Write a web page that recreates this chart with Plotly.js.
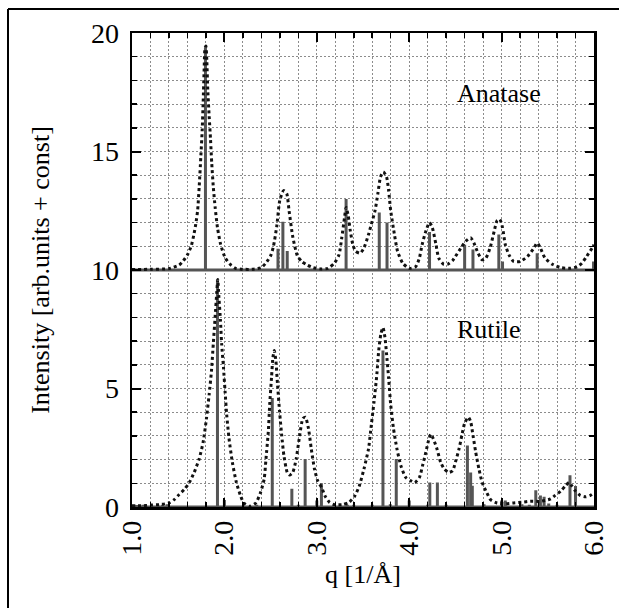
<!DOCTYPE html>
<html>
<head>
<meta charset="utf-8">
<script src="https://cdn.plot.ly/plotly-3.0.1.min.js"></script>
<style>
  html, body { margin: 0; padding: 0; background: #fff; }
  #plot { width: 619px; height: 608px; }
</style>
</head>
<body>
<div id="plot"></div>
<script>
// ---------- DATA ----------
// Anatase: broadened pattern (dotted), already shifted by +10
const anataseQ = [
  1.00, 1.20, 1.40, 1.51, 1.55, 1.60, 1.64, 1.67, 1.69, 1.71,
  1.727, 1.745, 1.76, 1.77, 1.78, 1.79, 1.80, 1.81, 1.82, 1.835,
  1.85, 1.863, 1.88, 1.90, 1.925, 1.96, 2.01, 2.07, 2.12, 2.20,
  2.30, 2.40, 2.46, 2.50, 2.53, 2.566, 2.60, 2.64, 2.674, 2.70,
  2.74, 2.79, 2.84, 2.90, 2.96, 3.05, 3.12, 3.19, 3.24, 3.27,
  3.30, 3.317, 3.34, 3.363, 3.39, 3.42, 3.47, 3.51, 3.56, 3.59,
  3.63, 3.66, 3.69, 3.72, 3.755, 3.777, 3.80, 3.84, 3.874, 3.93,
  4.00, 4.07, 4.11, 4.14, 4.18, 4.22, 4.25, 4.29, 4.32, 4.37,
  4.42, 4.47, 4.50, 4.56, 4.61, 4.665, 4.70, 4.745, 4.79, 4.83,
  4.875, 4.92, 4.95, 4.98, 5.01, 5.04, 5.08, 5.13, 5.20, 5.28,
  5.35, 5.385, 5.42, 5.47, 5.55, 5.64, 5.745, 5.82, 5.87, 5.92,
  5.98, 6.00
];
const anataseI = [
  10.02, 10.03, 10.06, 10.21, 10.36, 10.64, 11.00, 11.50, 11.93, 12.50,
  13.50, 14.79, 15.93, 17.07, 18.36, 19.36, 19.45, 18.80, 17.60, 16.50,
  15.50, 14.50, 13.50, 12.64, 11.79, 11.07, 10.50, 10.21, 10.07, 10.03,
  10.03, 10.10, 10.35, 10.60, 10.98, 11.83, 12.95, 13.35, 13.23, 12.50,
  11.40, 10.60, 10.35, 10.20, 10.10, 10.04, 10.07, 10.29, 10.64, 11.36,
  12.21, 12.64, 12.29, 11.64, 11.07, 10.79, 10.71, 10.93, 11.50, 11.93,
  12.50, 13.20, 13.93, 14.14, 13.93, 13.36, 12.50, 11.50, 10.79, 10.29,
  10.07, 10.14, 10.50, 11.07, 11.64, 12.00, 11.79, 11.07, 10.50, 10.25,
  10.25, 10.40, 10.57, 10.93, 11.21, 11.36, 11.14, 10.71, 10.43, 10.50,
  10.93, 11.64, 12.07, 12.14, 11.79, 11.07, 10.64, 10.36, 10.36, 10.57,
  10.93, 11.14, 10.93, 10.50, 10.24, 10.10, 10.07, 10.14, 10.29, 10.57,
  10.93, 11.07
];
// Anatase: calculated reflections (solid gray), base line and heights above it
const anataseBase = 10;
const anatasePeakQ = [1.795, 2.58, 2.633, 2.68, 3.317, 3.676, 3.76, 4.22, 4.60, 4.69, 4.97, 5.01, 5.385, 5.995];
const anatasePeakH = [9.40, 0.90, 2.04, 0.80, 3.00, 2.43, 2.00, 1.60, 1.07, 0.86, 1.50, 0.36, 0.71, 0.36];

// Rutile: broadened pattern (dotted)
const rutileQ = [
  1.00, 1.10, 1.20, 1.30, 1.40, 1.457, 1.51, 1.565, 1.62, 1.673,
  1.727, 1.77, 1.806, 1.835, 1.86, 1.88, 1.90, 1.917, 1.928, 1.94,
  1.957, 1.97, 1.99, 2.007, 2.025, 2.05, 2.086, 2.13, 2.176, 2.21,
  2.27, 2.34, 2.39, 2.43, 2.45, 2.475, 2.49, 2.51, 2.525, 2.54,
  2.557, 2.575, 2.597, 2.62, 2.644, 2.68, 2.705, 2.74, 2.777, 2.81,
  2.85, 2.877, 2.91, 2.94, 2.975, 3.01, 3.054, 3.09, 3.137, 3.19,
  3.28, 3.35, 3.41, 3.46, 3.51, 3.56, 3.59, 3.62, 3.65, 3.67,
  3.694, 3.716, 3.737, 3.755, 3.777, 3.80, 3.83, 3.867, 3.91, 3.964,
  4.02, 4.06, 4.11, 4.144, 4.18, 4.21, 4.234, 4.26, 4.30, 4.34,
  4.38, 4.43, 4.47, 4.50, 4.54, 4.57, 4.60, 4.64, 4.665, 4.69,
  4.72, 4.755, 4.79, 4.84, 4.88, 4.95, 5.04, 5.13, 5.22, 5.31,
  5.42, 5.53, 5.58, 5.64, 5.69, 5.73, 5.76, 5.80, 5.85, 5.91,
  5.96, 6.00
];
const rutileI = [
  0.05, 0.05, 0.08, 0.10, 0.17, 0.31, 0.53, 0.74, 1.03, 1.46,
  2.03, 2.74, 3.74, 4.74, 5.74, 6.89, 8.03, 9.03, 9.60, 8.89,
  7.89, 6.89, 5.89, 4.89, 3.89, 2.89, 1.89, 1.03, 0.46, 0.17,
  0.03, 0.17, 0.60, 1.17, 2.03, 3.17, 4.31, 5.46, 6.31, 6.60,
  6.17, 5.17, 4.03, 3.03, 2.17, 1.46, 1.35, 1.46, 2.03, 2.89,
  3.74, 3.79, 3.31, 2.46, 1.60, 1.10, 0.81, 0.46, 0.20, 0.10,
  0.10, 0.20, 0.46, 0.89, 1.60, 2.46, 3.46, 4.46, 5.60, 6.60,
  7.31, 7.57, 7.17, 6.46, 5.46, 4.31, 3.31, 2.46, 1.74, 1.24,
  1.10, 1.03, 1.24, 1.74, 2.31, 2.81, 3.07, 2.89, 2.46, 1.89,
  1.60, 1.46, 1.53, 1.89, 2.46, 3.03, 3.53, 3.79, 3.60, 3.03,
  2.31, 1.60, 1.03, 0.60, 0.31, 0.17, 0.14, 0.17, 0.20, 0.24,
  0.24, 0.34, 0.49, 0.67, 0.89, 1.03, 0.89, 0.67, 0.49, 0.43,
  0.49, 0.60
];
// Rutile: calculated reflections (solid gray)
const rutileBase = 0;
const rutilePeakQ = [1.05, 1.12, 1.20, 1.33, 1.38, 1.925, 2.00, 2.35, 2.518, 2.73,
  2.80, 2.874, 3.00, 3.05, 3.19, 3.33, 3.40, 3.60, 3.716, 3.795,
  3.86, 4.00, 4.20, 4.223, 4.305, 4.40, 4.63, 4.665, 4.683, 4.81,
  5.00, 5.04, 5.22, 5.30, 5.37, 5.42, 5.46, 5.51, 5.60, 5.74, 5.80];
const rutilePeakH = [0.08, 0.10, 0.06, 0.10, 0.12, 9.60, 0.30, 0.10, 4.60, 0.77,
  0.10, 2.03, 0.27, 1.00, 0.10, 0.10, 0.10, 0.10, 6.60, 0.12,
  2.03, 0.27, 0.10, 1.03, 1.03, 0.10, 2.60, 1.46, 0.90, 0.12,
  0.27, 0.27, 0.12, 0.10, 0.71, 0.49, 0.43, 0.15, 0.10, 1.34, 0.89];

const labels = [
  {text: 'Anatase', q: 4.97, y: 17.45},
  {text: 'Rutile', q: 4.86, y: 7.5}
];
const xTitle = 'q [1/Å]';
const yTitle = 'Intensity [arb.units + const]';

// ---------- build stick spectra ----------
function sticks(base, qs, hs) {
  const x = [1.0], y = [base];
  qs.forEach((q, i) => {
    x.push(q, q, q);
    y.push(base, base + hs[i], base);
  });
  x.push(6.0); y.push(base);
  return {x, y};
}
const aS = sticks(anataseBase, anatasePeakQ, anatasePeakH);
const rS = sticks(rutileBase, rutilePeakQ, rutilePeakH);

const SOLID = '#555555';
const DOT = '#111111';
const FONT = 'Liberation Serif';

const traces = [
  {x: rS.x, y: rS.y, type: 'scatter', mode: 'lines', line: {color: SOLID, width: 3}, hoverinfo: 'skip'},
  {x: aS.x, y: aS.y, type: 'scatter', mode: 'lines', line: {color: SOLID, width: 3}, hoverinfo: 'skip'},
  {x: rutileQ, y: rutileI, type: 'scatter', mode: 'lines', line: {color: DOT, width: 3, dash: 'dot', shape: 'spline', smoothing: 0.6}, hoverinfo: 'skip'},
  {x: anataseQ, y: anataseI, type: 'scatter', mode: 'lines', line: {color: DOT, width: 3, dash: 'dot', shape: 'spline', smoothing: 0.6}, hoverinfo: 'skip'}
];

const M = {l: 132, r: 25, t: 33, b: 101};
const W = 619, H = 608;
const pw = W - M.l - M.r, ph = H - M.t - M.b;
const px2x = p => (p - M.l) / pw;
const py2y = p => 1 - (p - M.t) / ph;

const gridCol = '#8c8c8c';
const axisCommon = {
  showline: true, linecolor: '#000', linewidth: 2.5, mirror: 'allticks',
  ticks: 'inside', ticklen: 9, tickwidth: 2, tickcolor: '#000',
  showgrid: true, gridcolor: gridCol, gridwidth: 1, griddash: '2px,2px',
  zeroline: false,
  tickfont: {family: FONT, size: 28, color: '#000'}
};

const layout = {
  width: W, height: H,
  margin: M,
  paper_bgcolor: '#fff', plot_bgcolor: '#fff',
  showlegend: false,
  font: {family: FONT, color: '#000'},
  xaxis: Object.assign({}, axisCommon, {
    range: [1, 6], tick0: 1, dtick: 1, tickformat: '.1f', tickangle: -90,
    minor: {dtick: 0.2, ticks: 'inside', ticklen: 5, tickwidth: 1.5, tickcolor: '#000',
            showgrid: true, gridcolor: gridCol, gridwidth: 1, griddash: '2px,2px'},
    title: {text: xTitle, font: {family: FONT, size: 26, color: '#000'}, standoff: 10}
  }),
  yaxis: Object.assign({}, axisCommon, {
    range: [0, 20], tick0: 0, dtick: 5, ticklabelstandoff: 5,
    minor: {dtick: 1, ticks: 'inside', ticklen: 5, tickwidth: 1.5, tickcolor: '#000',
            showgrid: true, gridcolor: gridCol, gridwidth: 1, griddash: '2px,2px'},
    title: {text: yTitle, font: {family: FONT, size: 26, color: '#000'}, standoff: 34}
  }),
  annotations: labels.map(l => ({
    x: l.q, y: l.y, xref: 'x', yref: 'y', text: l.text, showarrow: false,
    font: {family: FONT, size: 26, color: '#000'}
  })),
  shapes: [
    {type: 'line', xref: 'paper', yref: 'paper', x0: px2x(8), x1: px2x(8), y0: py2y(9), y1: py2y(H + 2),
     line: {color: '#000', width: 2}},
    {type: 'line', xref: 'paper', yref: 'paper', x0: px2x(8), x1: px2x(W + 2), y0: py2y(9), y1: py2y(9),
     line: {color: '#000', width: 2}}
  ]
};

Plotly.newPlot('plot', traces, layout, {staticPlot: true, displayModeBar: false});
</script>
</body>
</html>
